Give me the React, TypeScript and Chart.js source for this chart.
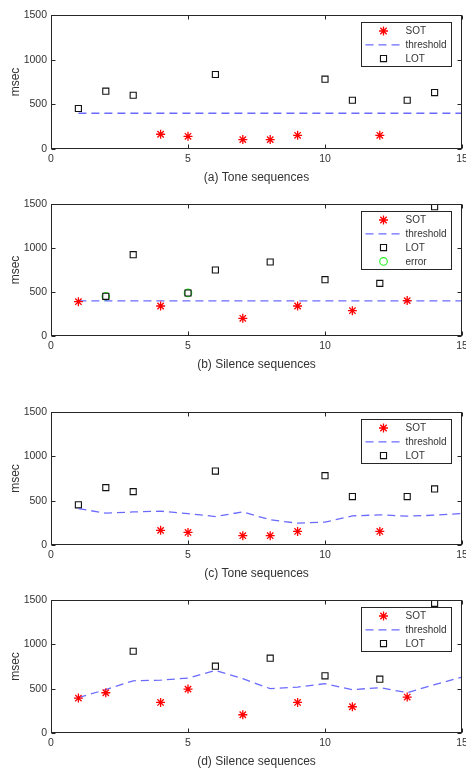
import React, { useEffect, useRef } from "react";
import { Chart, registerables } from "chart.js";

Chart.register(...registerables);

// ---------- data ----------
const xTicks = [0, 5, 10, 15];
const yTicks = [0, 500, 1000, 1500];

// Tone sequences
const toneSotX = [4, 5, 7, 8, 9, 12];
const toneSotY = [165, 142, 105, 105, 153, 153];
const toneLotX = [1, 2, 3, 6, 10, 11, 13, 14];
const toneLotY = [453, 647, 602, 834, 782, 546, 546, 632];

// Silence sequences, fixed threshold (b)
const silSotXb = [1, 4, 7, 9, 11, 13];
const silSotYb = [390, 341, 201, 341, 288, 402];
const silLotXb = [2, 3, 5, 6, 8, 10, 12, 14];
const silLotYb = [451, 924, 489, 750, 841, 640, 598, 1470];
const silErrX = [2, 5];
const silErrY = [451, 489];

// Silence sequences, adaptive threshold (d)
const silSotXd = [1, 2, 4, 5, 7, 9, 11, 13];
const silSotYd = [394, 454, 345, 495, 206, 345, 296, 405];
const silLotXd = [3, 6, 8, 10, 12, 14];
const silLotYd = [922, 754, 844, 645, 607, 1462];

// thresholds
const threshX = [1, 2, 3, 4, 5, 6, 7, 8, 9, 10, 11, 12, 13, 14, 15];
const fixedThreshold = [400, 400, 400, 400, 400, 400, 400, 400, 400, 400, 400, 400, 400, 400, 400];
const toneThreshold = [410, 359, 373, 381, 354, 321, 373, 284, 246, 258, 328, 340, 325, 336, 354];
const silenceThreshold = [399, 489, 589, 596, 619, 705, 612, 500, 518, 556, 489, 511, 455, 545, 630];

const titles = ["(a) Tone sequences", "(b) Silence sequences", "(c) Tone sequences", "(d) Silence sequences"];

// ---------- styling ----------
const FONT = "'Liberation Sans', Arial, Helvetica, sans-serif";
const TEXT = "#333333";
const AXIS = "#262626";
const BLUE = "rgba(80,80,255,0.85)";
const DASH = [8, 5];
const CANVAS_W = 486; // wider than the page; the wrapper clips at 466 like the reference
const PLOT_RIGHT = 462;

const zip = (xs: number[], ys: number[]) => xs.map((x, i) => ({ x, y: ys[i] }));

function sotDs(xs: number[], ys: number[]) {
  return {
    label: "SOT",
    type: "scatter" as const,
    data: zip(xs, ys),
    pointStyle: "star",
    pointRadius: 4.5,
    borderColor: "#ff0000",
    backgroundColor: "#ff0000",
    pointBorderWidth: 1.3,
    showLine: false,
  };
}
function lotDs(xs: number[], ys: number[]) {
  return {
    label: "LOT",
    type: "scatter" as const,
    data: zip(xs, ys),
    pointStyle: "rect",
    pointRadius: 4.3,
    borderColor: "#111111",
    backgroundColor: "rgba(0,0,0,0)",
    pointBorderWidth: 1.1,
    showLine: false,
  };
}
function errDs(xs: number[], ys: number[]) {
  return {
    label: "error",
    type: "scatter" as const,
    data: zip(xs, ys),
    pointStyle: "circle",
    pointRadius: 3.8,
    borderColor: "#22ee22",
    backgroundColor: "rgba(0,0,0,0)",
    pointBorderWidth: 1.1,
    showLine: false,
  };
}
function thrDs(ys: number[]) {
  return {
    label: "threshold",
    type: "line" as const,
    data: zip(threshX, ys),
    borderColor: BLUE,
    borderWidth: 1.3,
    borderDash: DASH,
    pointRadius: 0,
    fill: false,
    tension: 0,
  };
}

function drawMarker(ctx: CanvasRenderingContext2D, d: any, x: number, y: number) {
  const r = d.pointRadius;
  ctx.save();
  ctx.strokeStyle = d.borderColor;
  ctx.lineWidth = d.pointBorderWidth;
  ctx.beginPath();
  if (d.pointStyle === "star") {
    ctx.moveTo(x - r, y);
    ctx.lineTo(x + r, y);
    ctx.moveTo(x, y - r);
    ctx.lineTo(x, y + r);
    const k = r * Math.SQRT1_2;
    ctx.moveTo(x - k, y - k);
    ctx.lineTo(x + k, y + k);
    ctx.moveTo(x - k, y + k);
    ctx.lineTo(x + k, y - k);
  } else if (d.pointStyle === "rect") {
    const s = r * Math.SQRT1_2;
    ctx.rect(x - s, y - s, 2 * s, 2 * s);
  } else {
    ctx.arc(x, y, r, 0, Math.PI * 2);
  }
  ctx.stroke();
  ctx.restore();
}

// box + inward ticks + legend
const matlabPlugin = {
  id: "matlabBox",
  afterDraw(chart: any) {
    const { ctx, chartArea: a, scales } = chart;
    const xs = scales.x;
    const ys = scales.y;
    ctx.save();
    ctx.strokeStyle = AXIS;
    ctx.lineWidth = 1;
    const L = Math.round(a.left) + 0.5;
    const R = Math.round(a.right) - 0.5;
    const T = Math.round(a.top) + 0.5;
    const B = Math.round(a.bottom) - 0.5;
    ctx.strokeRect(L, T, R - L, B - T);
    const tl = 4;
    ctx.beginPath();
    xTicks.forEach((v) => {
      const px = Math.round(xs.getPixelForValue(v)) + 0.5;
      ctx.moveTo(px, B);
      ctx.lineTo(px, B - tl);
      ctx.moveTo(px, T);
      ctx.lineTo(px, T + tl);
    });
    yTicks.forEach((v) => {
      const py = Math.round(ys.getPixelForValue(v)) + 0.5;
      ctx.moveTo(L, py);
      ctx.lineTo(L + tl, py);
      ctx.moveTo(R, py);
      ctx.lineTo(R - tl, py);
    });
    ctx.stroke();

    // legend
    const items = chart.data.datasets;
    const order = ["SOT", "threshold", "LOT", "error"];
    const sorted = order
      .map((lab) => items.find((d: any) => d.label === lab))
      .filter(Boolean);
    const n = sorted.length;
    const bw = 90;
    const bh = 14 * n + 2;
    const bx = Math.round(a.right - 11 - bw) + 0.5;
    const by = Math.round(a.top + 7) + 0.5;
    ctx.fillStyle = "#ffffff";
    ctx.fillRect(bx, by, bw, bh);
    ctx.strokeStyle = AXIS;
    ctx.lineWidth = 1;
    ctx.strokeRect(bx, by, bw, bh);
    ctx.font = "10px " + FONT;
    ctx.textBaseline = "middle";
    ctx.textAlign = "left";
    sorted.forEach((d: any, i: number) => {
      const cy = by + 8.5 + 13.8 * i;
      const mx = bx + 22;
      if (d.label === "threshold") {
        ctx.save();
        ctx.strokeStyle = d.borderColor;
        ctx.lineWidth = d.borderWidth;
        ctx.setLineDash(DASH);
        ctx.beginPath();
        ctx.moveTo(bx + 4, cy);
        ctx.lineTo(bx + 41, cy);
        ctx.stroke();
        ctx.restore();
      } else {
        drawMarker(ctx, d, mx, cy);
      }
      ctx.fillStyle = TEXT;
      ctx.fillText(d.label, bx + 44, cy + 0.5);
    });
    ctx.restore();
  },
};

function buildConfig(datasets: any[], title: string) {
  return {
    type: "scatter" as const,
    data: { datasets },
    options: {
      responsive: false,
      animation: false as const,
      devicePixelRatio: 1,
      layout: { padding: { top: 15, right: CANVAS_W - PLOT_RIGHT, bottom: 0, left: 0 } },
      plugins: { legend: { display: false }, tooltip: { enabled: false } },
      scales: {
        x: {
          type: "linear" as const,
          position: "bottom" as const,
          min: 0,
          max: 15,
          grid: { display: false, drawTicks: false },
          border: { display: false },
          ticks: {
            stepSize: 5,
            padding: 4,
            color: TEXT,
            font: { family: FONT, size: 10.5 },
            maxRotation: 0,
            autoSkip: false,
            callback: (v: any) => String(v),
          },
          title: {
            display: true,
            text: title,
            color: TEXT,
            font: { family: FONT, size: 12 },
            padding: { top: 0, bottom: 9 },
          },
          afterFit: (s: any) => {
            s.height = 45;
          },
        },
        y: {
          type: "linear" as const,
          position: "left" as const,
          min: 0,
          max: 1500,
          grid: { display: false, drawTicks: false },
          border: { display: false },
          ticks: {
            stepSize: 500,
            padding: 4,
            color: TEXT,
            font: { family: FONT, size: 10.5 },
            autoSkip: false,
            callback: (v: any) => String(v),
          },
          title: {
            display: true,
            text: "msec",
            color: TEXT,
            font: { family: FONT, size: 12 },
            padding: { top: 8, bottom: 0 },
          },
          afterFit: (s: any) => {
            s.width = 51;
          },
        },
      },
    },
    plugins: [matlabPlugin],
  };
}

// plot area top / bottom in page coordinates
const panelTops = [15, 204, 412, 600];
const panelBottoms = [149, 336, 545, 733];

function Panel({ index, datasets }: { index: number; datasets: any[] }) {
  const ref = useRef<HTMLCanvasElement | null>(null);
  const top = panelTops[index] - 15;
  const h = 15 + (panelBottoms[index] - panelTops[index]) + 45;
  useEffect(() => {
    if (!ref.current) return;
    const chart = new Chart(ref.current, buildConfig(datasets, titles[index]) as any);
    return () => chart.destroy();
  }, []);
  return (
    <canvas
      ref={ref}
      width={CANVAS_W}
      height={h}
      style={{ position: "absolute", left: 0, top, width: CANVAS_W, height: h }}
    />
  );
}

export default function App() {
  Chart.defaults.font.family = FONT;
  const panels = [
    [sotDs(toneSotX, toneSotY), thrDs(fixedThreshold), lotDs(toneLotX, toneLotY)],
    [sotDs(silSotXb, silSotYb), thrDs(fixedThreshold), lotDs(silLotXb, silLotYb), errDs(silErrX, silErrY)],
    [sotDs(toneSotX, toneSotY), thrDs(toneThreshold), lotDs(toneLotX, toneLotY)],
    [sotDs(silSotXd, silSotYd), thrDs(silenceThreshold), lotDs(silLotXd, silLotYd)],
  ];
  return (
    <div style={{ position: "absolute", left: 0, top: 0, width: 466, height: 768, background: "#ffffff", overflow: "hidden" }}>
      {panels.map((ds, i) => (
        <Panel key={i} index={i} datasets={ds} />
      ))}
    </div>
  );
}
